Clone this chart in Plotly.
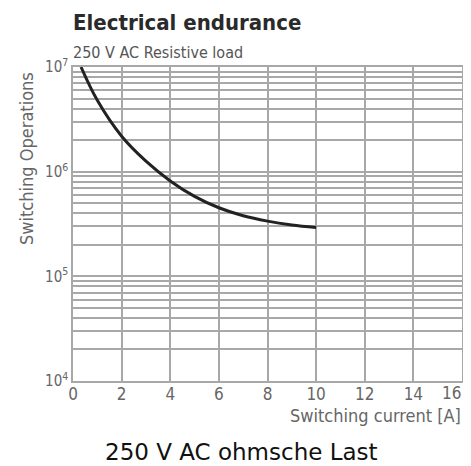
import plotly.graph_objects as go

current_a = [0.33, 1, 2, 3, 4, 5, 6, 7, 8, 9, 10]
operations = [1.0e7, 4.80e6, 2.18e6, 1.26e6, 8.16e5, 5.81e5, 4.52e5, 3.79e5, 3.37e5, 3.10e5, 2.93e5]
x_ticks = [0, 2, 4, 6, 8, 10, 12, 14, 16]
y_decades = [4, 5, 6, 7]

COND = "'DejaVu Sans Condensed', 'DejaVu Sans', sans-serif"

y_tickvals, y_ticktext = [], []
for d in y_decades:
    for m in range(1, 10):
        if d == 7 and m > 1:
            break
        y_tickvals.append(m * 10 ** d)
        y_ticktext.append(f"10<sup>{d}</sup>" if m == 1 else "")

# last x label is drawn right-aligned at the plot edge so it is not clipped
x_ticktext = [str(v) for v in x_ticks[:-1]] + [""]

fig = go.Figure()
fig.add_trace(go.Scatter(x=current_a, y=operations, mode="lines",
                         line=dict(color="#222222", width=3, shape="spline", smoothing=1.0),
                         hoverinfo="skip", showlegend=False))

# page body has an 8px default margin, so the figure is offset by 8px
fig.update_layout(
    width=463, height=458,
    margin=dict(l=65, r=9, t=59, b=85),
    paper_bgcolor="white", plot_bgcolor="white",
    font=dict(family=COND, color="#666666", size=15),
    xaxis=dict(range=[0, 16], tickvals=x_ticks, ticktext=x_ticktext,
               showgrid=True, gridcolor="#a8a8a8", gridwidth=1.5,
               showline=True, linecolor="#a8a8a8", linewidth=1.5, mirror=True,
               zeroline=False, ticks="", ticklen=0, automargin=False,
               ticklabelstandoff=-3,
               tickfont=dict(size=17, color="#666666", family=COND)),
    yaxis=dict(type="log", range=[4, 7], tickvals=y_tickvals, ticktext=y_ticktext,
               showgrid=True, gridcolor="#a8a8a8", gridwidth=1.5,
               showline=True, linecolor="#a8a8a8", linewidth=1.5, mirror=True,
               zeroline=False, ticks="", automargin=False, ticklabeloverflow="allow",
               tickfont=dict(size=15, color="#666666", family=COND)),
)

fig.add_annotation(text=str(x_ticks[-1]), xref="x", yref="paper",
                   x=x_ticks[-1], y=0, xshift=1, yshift=-12, xanchor="right", yanchor="middle",
                   showarrow=False, font=dict(size=17, color="#666666", family=COND))
fig.add_annotation(text="<b>Electrical endurance</b>", xref="paper", yref="paper",
                   x=0, y=1, xshift=-2, yshift=45, xanchor="left", yanchor="middle",
                   showarrow=False, font=dict(size=22, color="#2a2a2a", family=COND))
fig.add_annotation(text="250 V AC Resistive load", xref="paper", yref="paper",
                   x=0, y=1, xshift=-2, yshift=15, xanchor="left", yanchor="middle",
                   showarrow=False, font=dict(size=16, color="#555555", family=COND))
fig.add_annotation(text="Switching Operations", xref="paper", yref="paper",
                   x=0, y=1, xshift=-47, yshift=-92, xanchor="center", yanchor="middle",
                   textangle=-90, showarrow=False, font=dict(size=18, color="#666666", family=COND))
fig.add_annotation(text="Switching current [A]", xref="paper", yref="paper",
                   x=1, y=0, xshift=1, yshift=-34, xanchor="right", yanchor="middle",
                   showarrow=False, font=dict(size=18, color="#666666", family=COND))
fig.add_annotation(text="250 V AC ohmsche Last", xref="paper", yref="paper",
                   x=0.5, y=0, xshift=-26, yshift=-71, xanchor="center", yanchor="middle",
                   showarrow=False, font=dict(size=23, color="#111111", family="'DejaVu Sans', sans-serif"))

fig.write_html("out.html")
